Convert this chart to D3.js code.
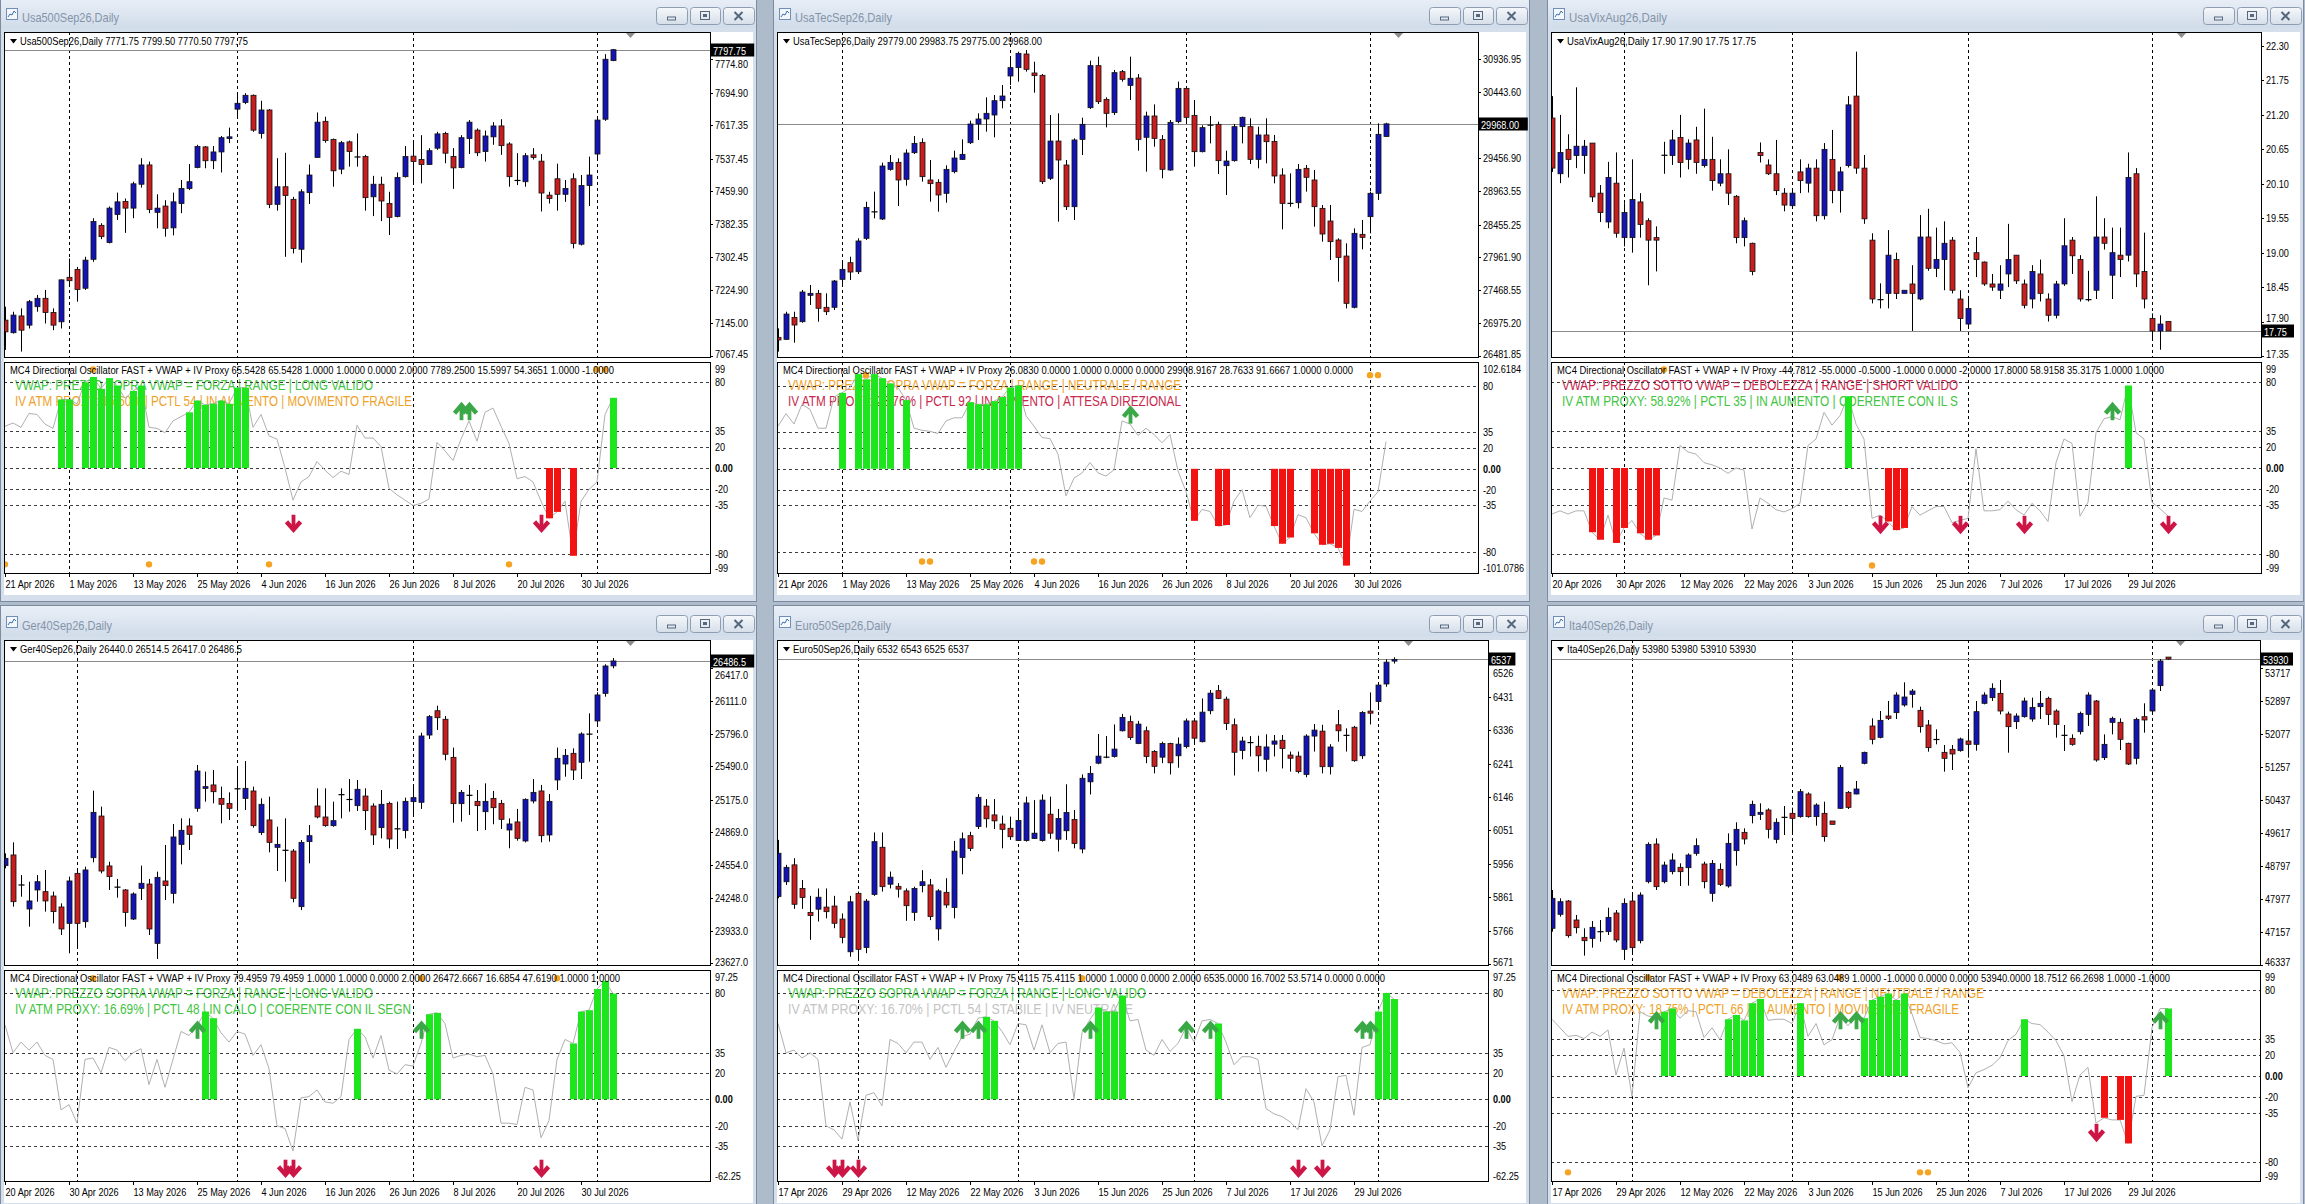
<!DOCTYPE html>
<html><head><meta charset="utf-8">
<script src="https://cdn.jsdelivr.net/npm/d3@7/dist/d3.min.js"></script>
<style>
html,body{margin:0;padding:0;background:#aebbcb;overflow:hidden;}
svg{display:block;}
text{font-family:"Liberation Sans",Arial,sans-serif;}
</style></head><body>
<svg id="c" width="2305" height="1204"></svg>
<script>
// ===================== DATA =====================
// candles: [open, high, low, close]
const usa500Candles = [[7153,7185,7082,7125],[7123,7173,7121,7165],[7163,7181,7078,7129],[7141,7201,7133,7197],[7185,7213,7173,7205],[7205,7225,7145,7171],[7171,7181,7129,7141],[7149,7250,7133,7249],[7255,7300,7233,7247],[7274,7280,7197,7226],[7229,7304,7225,7296],[7298,7396,7292,7388],[7379,7384,7346,7352],[7338,7424,7336,7420],[7405,7457,7392,7435],[7436,7443,7361,7420],[7420,7483,7396,7478],[7477,7539,7469,7523],[7523,7531,7408,7417],[7410,7453,7372,7420],[7425,7439,7352,7372],[7373,7457,7355,7435],[7431,7487,7408,7467],[7467,7525,7463,7483],[7517,7571,7515,7567],[7566,7568,7515,7533],[7533,7568,7513,7554],[7554,7592,7505,7588],[7586,7612,7575,7590],[7656,7696,7634,7670],[7672,7694,7668,7689],[7689,7691,7602,7606],[7598,7676,7586,7654],[7654,7656,7420,7429],[7429,7539,7414,7471],[7471,7552,7304,7450],[7441,7447,7312,7324],[7322,7465,7290,7459],[7457,7524,7430,7499],[7541,7648,7540,7625],[7627,7638,7576,7581],[7584,7586,7471,7509],[7513,7580,7501,7576],[7578,7581,7519,7555],[7541,7598,7519,7543],[7543,7547,7414,7445],[7447,7497,7401,7477],[7477,7495,7389,7437],[7431,7459,7356,7398],[7400,7505,7398,7493],[7495,7568,7493,7543],[7544,7582,7479,7531],[7536,7594,7479,7524],[7524,7563,7523,7557],[7563,7602,7559,7597],[7598,7602,7527,7551],[7543,7563,7466,7516],[7517,7594,7515,7588],[7586,7630,7549,7625],[7606,7610,7544,7552],[7555,7605,7531,7592],[7590,7625,7571,7616],[7616,7632,7547,7569],[7573,7577,7471,7495],[7487,7551,7475,7485],[7483,7551,7471,7545],[7547,7563,7536,7541],[7532,7549,7412,7456],[7451,7459,7431,7443],[7490,7526,7414,7453],[7453,7487,7435,7467],[7490,7503,7324,7336],[7334,7499,7331,7474],[7474,7543,7425,7499],[7549,7634,7535,7630],[7632,7787,7628,7775],[7771.75,7799.5,7770.5,7797.75]];
const usa500Osc = [39,42,38,51,50,41,37,64,64,60,80,85,74,84,77,65,72,77,38,37,33,44,48,52,63,59,60,63,60,75,75,38,50,30,27,0,-30,-13,-8,6,-2,-9,-3,-6,40,28,28,20,-19,-25,-30,-35,-33,-29,24,16,7,27,44,25,52,56,39,23,-10,-8,-13,-31,-47,-41,-31,-82,-31,-20,-13,50,65.54];
const usa500Green = [7,8,10,11,12,13,14,16,17,23,24,25,26,27,28,29,30,76];
const usa500Red = [68,69,71];
const usa500Up = [[57,54],[58,54]];
const usa500Down = [[36,-53],[67,-53]];
const usa500Dots = [[11,92],[74,92],[75,92],[0,-90],[18,-90],[33,-90],[63,-90]];
const usa500PriceTicks = [7774.80,7694.90,7617.35,7537.45,7459.90,7382.35,7302.45,7224.90,7145.00,7067.45];
const usa500Domain = [7062.68,7839.97];
const usa500Months = [8,29,51,74];

const usaTecCandles = [[26762,26897,26547,26722],[26732,27147,26722,27112],[27062,27147,26682,26947],[26997,27473,26982,27443],[27393,27548,27248,27423],[27423,27473,26997,27198],[27213,27423,27097,27147],[27213,27623,27172,27608],[27633,27923,27523,27783],[27883,27973,27623,27743],[27748,28249,27713,28209],[28249,28799,28224,28714],[28639,28950,28549,28654],[28539,29385,28524,29335],[29285,29500,29265,29390],[29390,29450,28734,29125],[29135,29585,29040,29530],[29535,29786,29515,29675],[29690,29750,29100,29175],[29125,29425,28800,29070],[29090,29135,28649,28900],[28925,29345,28784,29285],[29250,29565,29225,29455],[29435,29735,29425,29510],[29685,30016,29665,29966],[29966,30126,29725,30041],[30041,30366,29851,30126],[30101,30401,29766,30316],[30316,30551,30201,30386],[30687,30987,30551,30812],[30812,31052,30602,31027],[31017,31077,30752,30787],[30732,30902,30436,30692],[30697,30717,29065,29100],[29150,30101,29125,29710],[29710,30126,28499,29425],[29350,29425,28674,28724],[28724,29750,28524,29726],[29735,30061,29500,29961],[30211,30917,30191,30842],[30842,30977,30266,30301],[30336,30366,29916,30126],[30136,30777,30101,30737],[30752,30777,30602,30637],[30546,30977,30326,30652],[30657,30717,29565,29735],[29766,30151,29250,30086],[30086,30261,29625,29750],[29735,29800,29150,29285],[29275,30026,29265,29991],[30001,30602,29976,30501],[30501,30526,29986,30066],[30096,30326,29325,29550],[29550,29946,29540,29911],[29941,30086,29675,29956],[29961,30001,29215,29415],[29340,29565,28900,29410],[29415,29966,29400,29926],[29926,30076,29675,30066],[29926,30051,29365,29435],[29435,29926,29300,29801],[29801,30051,29375,29700],[29705,29801,29075,29185],[29200,29300,28384,28774],[28764,29225,28724,28784],[28784,29365,28699,29285],[29300,29350,28950,29165],[29125,29275,28424,28724],[28699,28749,28199,28314],[28509,28749,27923,28199],[28224,28249,27598,27963],[27983,28174,27197,27273],[27213,28399,27197,28324],[28309,28524,28084,28264],[28574,28950,28324,28925],[28925,29976,28824,29811],[29779,29983.75,29775,29968]];
const usaTecOsc = [41,53,43,62,57,39,39,69,73,78,91,86,91,87,82,78,66,39,37,36,34,46,49,49,64,62,62,65,69,78,80,51,41,30,29,14,-26,-9,-4,6,-4,-7,-1,46,43,32,39,33,25,33,-2,-22,-50,-39,-41,-55,-54,-31,-20,-47,-35,-36,-55,-72,-66,-44,-47,-62,-73,-72,-76,-93,-39,-41,-31,-22,26.08];
const usaTecGreen = [8,10,11,12,13,14,16,24,25,26,27,28,29,30];
const usaTecRed = [52,55,56,62,63,64,67,68,69,70,71];
const usaTecUp = [[44,53]];
const usaTecDown = [];
const usaTecDots = [[11,90],[74,90],[75,90],[18,-89],[19,-89],[32,-89],[33,-89]];
const usaTecPriceTicks = [30936.95,30443.60,29456.90,28963.55,28455.25,27961.90,27468.55,26975.20,26481.85];
const usaTecDomain = [26451.8,31347.4];
const usaTecMonths = [8,29,51,74];

const usaVixCandles = [[21.15,21.50,20.29,20.35],[20.26,21.20,20.11,20.60],[20.65,20.89,20.20,20.49],[20.55,21.64,20.35,20.70],[20.55,20.80,20.26,20.70],[20.75,20.75,19.81,19.89],[19.95,20.08,19.49,19.64],[19.49,20.45,19.39,20.20],[20.11,20.60,19.24,19.31],[19.24,19.79,19.10,19.64],[19.24,20.49,19.00,19.85],[19.81,19.95,19.24,19.45],[19.51,19.55,18.48,19.20],[19.24,19.42,18.70,19.20],[20.56,20.77,20.26,20.55],[20.55,20.96,20.40,20.80],[20.84,21.20,20.20,20.44],[20.49,20.81,20.33,20.75],[20.80,21.01,20.26,20.44],[20.39,21.30,20.36,20.49],[20.49,20.85,19.99,20.15],[20.11,20.49,20.06,20.26],[20.26,20.65,19.76,19.95],[19.90,19.92,19.15,19.24],[19.24,19.56,19.10,19.51],[19.15,19.16,18.64,18.70],[20.60,20.76,20.44,20.55],[20.40,20.49,20.24,20.26],[20.26,20.80,19.92,19.99],[19.95,20.03,19.66,19.76],[19.75,20.00,19.73,19.95],[20.29,20.49,19.95,20.15],[20.11,20.42,19.96,20.35],[20.35,20.49,19.50,19.59],[19.59,20.75,19.53,20.65],[20.49,20.96,19.79,19.99],[19.99,20.37,19.64,20.29],[20.39,21.50,20.36,21.36],[21.50,22.21,20.26,20.35],[20.35,20.56,19.46,19.54],[19.20,19.31,18.19,18.26],[18.25,18.51,18.11,18.25],[18.35,19.36,18.11,18.96],[18.89,19.00,18.26,18.35],[18.35,18.40,18.35,18.40],[18.50,18.80,17.75,18.35],[18.26,19.60,18.24,19.25],[19.25,19.70,18.71,18.75],[18.75,19.40,18.61,18.89],[18.89,19.50,18.40,19.15],[19.20,19.25,18.35,18.40],[18.26,18.40,17.75,17.95],[17.86,18.31,17.79,18.11],[19.00,19.25,18.61,18.89],[18.85,18.86,18.47,18.50],[18.50,18.66,18.39,18.45],[18.40,18.80,18.26,18.50],[18.66,19.46,18.45,18.89],[18.96,18.96,18.50,18.55],[18.50,18.57,18.11,18.16],[18.26,18.80,18.11,18.70],[18.66,18.89,18.22,18.35],[18.26,18.35,17.90,18.00],[18.00,18.55,17.95,18.50],[18.50,19.55,18.47,19.11],[19.20,19.25,18.66,18.95],[18.89,18.96,18.22,18.26],[18.25,18.71,18.22,18.25],[18.40,19.90,18.26,19.25],[19.25,19.55,19.05,19.15],[18.64,19.40,18.26,19.00],[18.96,19.40,18.61,18.89],[18.96,20.60,18.86,20.20],[20.26,20.35,18.45,18.66],[18.70,19.32,18.11,18.26],[17.95,18.03,17.60,17.75],[17.75,18.00,17.45,17.86],[17.90,17.90,17.75,17.75]];
const usaVixOsc = [-43,-40,-43,-40,-40,-60,-67,-44,-70,-56,-49,-61,-67,-63,-28,-30,21,15,13,5,3,0,-5,0,-2,-57,-28,-33,-39,-41,-38,-33,21,27,52,40,49,67,41,27,-47,-44,-50,-58,-56,-36,-44,-40,-36,-36,-51,-49,-47,18,-40,-40,-39,-31,-39,-44,-33,-40,-50,5,27,23,-45,-32,33,46,48,45,77,33,27,-32,-38,-44.78];
const usaVixGreen = [37,72];
const usaVixRed = [5,6,8,9,11,12,13,42,43,44];
const usaVixUp = [[70,54]];
const usaVixDown = [[41,-54],[51,-54],[59,-54],[77,-54]];
const usaVixDots = [[14,92],[40,-91]];
const usaVixPriceTicks = [22.30,21.75,21.20,20.65,20.10,19.55,19.00,18.45,17.90,17.35];
const usaVixDomain = [17.318,22.5236];
const usaVixMonths = [9,30,52,75];

const ger40Candles = [[24551,24667,24525,24620],[24652,24771,24163,24210],[24374,24462,24257,24362],[24141,24399,23974,24217],[24321,24462,24210,24399],[24305,24510,24116,24217],[24264,24305,24005,24116],[24160,24194,23895,23952],[24005,24447,23722,24406],[24478,24510,23769,24005],[24021,24541,23964,24510],[24626,25260,24582,25055],[25020,25109,24478,24500],[24548,24588,24321,24447],[24352,24425,24248,24343],[24321,24330,23974,24109],[24046,24298,24037,24283],[24336,24551,24226,24384],[24377,24425,23895,23952],[23816,24494,23668,24440],[24406,24746,24226,24362],[24289,24945,24194,24822],[24752,24998,24563,24885],[24926,24998,24699,24847],[25093,25503,25061,25446],[25282,25440,25156,25298],[25314,25455,25140,25250],[25187,25298,24951,25131],[25140,25244,24983,25093],[25273,25487,25071,25282],[25187,25540,25077,25282],[25257,25298,24910,24929],[24863,25187,24841,25131],[24983,25203,24677,24771],[24724,24919,24500,24752],[24699,24998,24399,24693],[24689,24708,24204,24242],[24163,24793,24131,24771],[24778,24935,24573,24834],[25115,25282,24998,25011],[25011,25282,24919,24929],[24929,25156,24919,24976],[25219,25282,24998,25225],[25172,25370,25061,25181],[25118,25361,25068,25273],[25209,25282,24888,25071],[25115,25140,24746,24841],[24910,25266,24809,25131],[25140,25156,24715,24803],[24904,25156,24708,24894],[24882,25194,24809,25159],[25156,25298,25023,25194],[25150,25808,25087,25777],[25786,25975,25749,25960],[26016,26064,25834,25950],[25935,25966,25547,25604],[25575,25667,24957,25137],[25137,25266,24967,25244],[25213,25314,25030,25219],[25159,25266,24878,25118],[25061,25329,24888,25159],[25187,25257,24942,25099],[25140,25172,24897,24989],[24888,24998,24715,24945],[24964,25087,24787,24809],[24784,25187,24771,25178],[25162,25370,25140,25244],[25257,25314,24771,24834],[24841,25228,24778,25159],[25361,25667,25266,25566],[25512,25654,25392,25594],[25613,25660,25361,25455],[25528,25812,25370,25796],[25790,25991,25534,25799],[25919,26190,25865,26165],[26180,26455,26149,26439],[26440,26514.5,26417,26486.5]];
const ger40Osc = [56,35,43,37,43,33,30,-8,-4,-18,30,31,20,39,37,29,35,38,11,30,9,30,51,48,55,66,61,50,43,51,49,33,41,23,-20,-22,-39,1,2,7,-2,-3,2,45,53,47,31,48,22,19,26,25,42,64,65,57,31,33,34,32,33,19,-18,-18,-19,9,7,-29,-16,30,45,42,66,67,83,89,79.5];
const ger40Green = [25,26,44,53,54,71,72,73,74,75,76];
const ger40Red = [];
const ger40Up = [[24,53],[52,53]];
const ger40Down = [[35,-53],[36,-53],[67,-53]];
const ger40Dots = [[11,91],[52,91],[69,91]];
const ger40PriceTicks = [26417.0,26111.0,25796.0,25490.0,25175.0,24869.0,24554.0,24248.0,23933.0,23627.0];
const ger40Domain = [23601.8,26684.7];
const ger40Months = [9,29,51,74];

const euro50Candles = [[5863,6024,5858,5986],[5905,5953,5896,5946],[5953,5972,5828,5841],[5886,5910,5828,5860],[5818,5865,5740,5809],[5827,5886,5792,5861],[5833,5886,5801,5820],[5836,5865,5773,5787],[5799,5815,5730,5747],[5706,5865,5692,5848],[5872,5877,5681,5713],[5718,5856,5702,5850],[5869,6045,5865,6019],[6003,6045,5877,5891],[5898,5934,5886,5918],[5892,5901,5860,5884],[5879,5886,5794,5837],[5818,5891,5794,5886],[5894,5938,5875,5905],[5896,5913,5796,5806],[5771,5884,5738,5879],[5875,5915,5831,5839],[5832,6021,5801,5992],[5974,6045,5926,6027],[6036,6047,5992,6000],[6062,6154,6055,6145],[6120,6140,6059,6084],[6095,6140,6055,6078],[6069,6093,6000,6054],[6057,6090,6024,6033],[6022,6112,6021,6079],[6022,6147,6019,6129],[6028,6137,6027,6043],[6022,6153,6019,6137],[6097,6147,6027,6043],[6026,6112,5991,6085],[6050,6182,6024,6102],[6082,6109,6000,6014],[5998,6210,5986,6199],[6189,6234,6153,6213],[6242,6325,6239,6262],[6258,6319,6256,6260],[6261,6352,6258,6282],[6334,6382,6332,6372],[6360,6377,6308,6315],[6298,6362,6296,6353],[6334,6346,6242,6261],[6275,6279,6213,6233],[6259,6303,6242,6298],[6298,6300,6210,6243],[6263,6315,6229,6296],[6289,6369,6284,6362],[6362,6368,6294,6313],[6303,6426,6301,6387],[6391,6450,6381,6441],[6448,6464,6424,6426],[6424,6431,6336,6355],[6351,6369,6207,6273],[6278,6317,6253,6305],[6299,6319,6261,6302],[6290,6320,6218,6263],[6253,6324,6218,6288],[6296,6322,6261,6305],[6307,6322,6227,6284],[6265,6275,6218,6256],[6262,6275,6213,6218],[6210,6324,6202,6319],[6319,6353,6275,6336],[6333,6351,6213,6232],[6232,6296,6210,6288],[6351,6393,6303,6334],[6322,6341,6275,6320],[6344,6348,6246,6249],[6263,6390,6254,6386],[6390,6443,6352,6384],[6417,6467,6393,6464],[6467,6537,6459,6529],[6532,6543,6525,6537]];
const euro50Osc = [57,35,37,31,35,30,-20,-23,-30,-2,-31,3,5,-5,45,42,35,43,43,30,39,24,36,47,49,61,62,59,51,41,57,56,37,56,35,42,43,0.5,50,60,69,66,66,78,59,60,37,33,45,36,42,54,43,59,60,57,43,26,32,32,30,-7,-11,-13,-17,-23,8,-2,-35,-23,17,18,-12,39,41,66,80,75.41];
const euro50Green = [26,27,40,41,42,43,55,75,76,77];
const euro50Red = [];
const euro50Up = [[23,53],[25,53],[39,53],[51,53],[54,53],[73,53],[74,53]];
const euro50Down = [[7,-53],[8,-53],[10,-53],[65,-53],[68,-53]];
const euro50Dots = [[38,91]];
const euro50PriceTicks = [6526,6431,6336,6241,6146,6051,5956,5861,5766,5671];
const euro50Domain = [5665.6,6592.0];
const euro50Months = [10,30,52,75];

const ita40Candles = [[47240,48192,47157,47985],[47588,47985,47530,47902],[47919,47944,47008,47058],[47447,47571,47116,47256],[47016,47240,46561,46933],[46991,47422,46759,47265],[47140,47447,46908,47173],[47157,47753,47074,47513],[47621,47695,46892,46950],[46718,47985,46453,47861],[47919,48109,46594,46759],[46933,48134,46867,48068],[48399,49377,48358,49327],[49335,49476,48192,48275],[48399,48896,48358,48813],[48648,49103,48582,48938],[48756,48855,48292,48648],[48747,49103,48300,49062],[49103,49476,49045,49294],[48838,48896,48234,48399],[48109,48938,47902,48855],[48706,48855,48292,48333],[48292,49600,48250,49352],[49170,49874,48797,49700],[49625,49725,49327,49460],[50040,50412,49849,50321],[50073,50346,49932,50122],[50180,50222,49476,49700],[49451,49973,49352,49874],[49990,50280,49559,50006],[50098,50238,49576,49973],[50015,50702,49990,50636],[50578,50619,49990,50015],[50015,50346,49791,50304],[50098,50387,49393,49518],[49907,49907,49824,49824],[50222,51298,50205,51240],[50619,50652,50205,50246],[50578,50901,50570,50702],[51340,51630,51315,51613],[52268,52458,51812,51936],[51986,52640,51961,52408],[52516,52889,52417,52458],[52599,53104,52441,53038],[52789,53353,52748,52988],[53054,53187,52723,53137],[52657,52748,52102,52251],[52292,52417,51630,51729],[51944,52185,51812,51920],[51613,51795,51133,51464],[51688,51795,51174,51572],[51655,51978,51630,51944],[51895,52193,51481,51812],[51812,52889,51655,52624],[52831,53104,52806,53038],[52972,53328,52889,53204],[53079,53411,52557,52640],[52566,52624,51605,52251],[52375,52582,52193,52516],[52499,52972,52475,52889],[52441,52972,52375,52731],[52748,53137,52441,52831],[52955,52996,52292,52557],[52640,52682,51978,52309],[52044,52292,51646,52027],[51961,52060,51779,51812],[52127,52624,52060,52582],[52557,53104,52268,53038],[52889,52914,51381,51423],[51481,52060,51423,51812],[52359,52499,52060,52458],[52359,52458,51671,51936],[51837,51853,51298,51323],[51464,52475,51315,52433],[52499,52831,52102,52417],[52640,53204,52557,53162],[53270,53932,53137,53883],[53980,53980,53910,53930]];
const ita40Osc = [53,45,37,38,35,41,37,43,1,26,-19,60,56,55,60,63,54,61,60,36,45,34,53,57,52,68,72,52,53,53,49,68,37,49,29,34,55,47,56,54,71,74,77,71,77,58,36,35,33,30,31,22,-11,3,6,10,17,33,39,53,49,48,41,33,19,-24,1,8,-44,-39,-41,-41,-63,-19,-18,45,63,63.05];
const ita40Green = [14,15,22,23,24,25,26,31,39,40,41,42,43,44,59,77];
const ita40Red = [69,71,72];
const ita40Up = [[13,53],[36,53],[38,53],[76,53]];
const ita40Down = [[68,-54]];
const ita40Dots = [[12,92],[36,92],[2,-90],[46,-90],[47,-90]];
const ita40PriceTicks = [53717,52897,52077,51257,50437,49617,48797,47977,47157,46337];
const ita40Domain = [46303.9,54404.5];
const ita40Months = [10,30,52,75];

const datesA = ["21 Apr 2026","1 May 2026","13 May 2026","25 May 2026","4 Jun 2026","16 Jun 2026","26 Jun 2026","8 Jul 2026","20 Jul 2026","30 Jul 2026"];
const datesB = ["20 Apr 2026","30 Apr 2026","12 May 2026","22 May 2026","3 Jun 2026","15 Jun 2026","25 Jun 2026","7 Jul 2026","17 Jul 2026","29 Jul 2026"];
const datesC = ["20 Apr 2026","30 Apr 2026","13 May 2026","25 May 2026","4 Jun 2026","16 Jun 2026","26 Jun 2026","8 Jul 2026","20 Jul 2026","30 Jul 2026"];
const datesD = ["17 Apr 2026","29 Apr 2026","12 May 2026","22 May 2026","3 Jun 2026","15 Jun 2026","25 Jun 2026","7 Jul 2026","17 Jul 2026","29 Jul 2026"];
const dateIdx = [0,8,16,24,32,40,48,56,64,72];

const oscTicksA = [99,80,35,20,0,-20,-35,-80,-99];
const oscTicksB = [102.6184,80,35,20,0,-20,-35,-80,-101.0786];
const oscTicksC = [97.25,80,35,20,0,-20,-35,-62.25];
const oscDomainA = [-99,99];
const oscDomainB = [-101.0786,102.6184];
const oscDomainC = [-62.25,97.25];
const levelsA = [80,35,20,0,-20,-35,-80];
const levelsC = [80,35,20,0,-20,-35];

const HDR = "MC4 Directional Oscillator FAST + VWAP + IV Proxy ";
const usa500Texts = [HDR+"65.5428 65.5428 1.0000 1.0000 0.0000 2.0000 7789.2500 15.5997 54.3651 1.0000 -1.0000","VWAP: PREZZO SOPRA VWAP = FORZA | RANGE | LONG VALIDO","IV ATM PROXY: 15.60% | PCTL 54 | IN AUMENTO | MOVIMENTO FRAGILE"];
const usaTecTexts = [HDR+"26.0830 0.0000 1.0000 0.0000 0.0000 29908.9167 28.7633 91.6667 1.0000 0.0000","VWAP: PREZZO SOPRA VWAP = FORZA | RANGE | NEUTRALE / RANGE","IV ATM PROXY: 28.76% | PCTL 92 | IN AUMENTO | ATTESA DIREZIONAL"];
const usaVixTexts = [HDR+"-44.7812 -55.0000 -0.5000 -1.0000 0.0000 -2.0000 17.8000 58.9158 35.3175 1.0000 1.0000","VWAP: PREZZO SOTTO VWAP = DEBOLEZZA | RANGE | SHORT VALIDO","IV ATM PROXY: 58.92% | PCTL 35 | IN AUMENTO | COERENTE CON IL S"];
const ger40Texts = [HDR+"79.4959 79.4959 1.0000 1.0000 0.0000 2.0000 26472.6667 16.6854 47.6190 1.0000 1.0000","VWAP: PREZZO SOPRA VWAP = FORZA | RANGE | LONG VALIDO","IV ATM PROXY: 16.69% | PCTL 48 | IN CALO | COERENTE CON IL SEGN"];
const euro50Texts = [HDR+"75.4115 75.4115 1.0000 1.0000 0.0000 2.0000 6535.0000 16.7002 53.5714 0.0000 0.0000","VWAP: PREZZO SOPRA VWAP = FORZA | RANGE | LONG VALIDO","IV ATM PROXY: 16.70% | PCTL 54 | STABILE | IV NEUTRALE"];
const ita40Texts = [HDR+"63.0489 63.0489 1.0000 -1.0000 0.0000 0.0000 53940.0000 18.7512 66.2698 1.0000 -1.0000","VWAP: PREZZO SOTTO VWAP = DEBOLEZZA | RANGE | NEUTRALE / RANGE","IV ATM PROXY: 18.75% | PCTL 66 | IN AUMENTO | MOVIMENTO FRAGILE"];

// ===================== STYLE =====================
const C_BLUE='#1414b4', C_RED='#c81e1e', H_GREEN='#1ee61e', H_RED='#f21212', C_LINE='#b0b0b0';
const T_GREEN='#42c442', T_ORANGE='#eea22a', T_CRIM='#c8284c', T_GRAY='#c4c4c4';
const A_GREEN='#3aa846', A_RED='#cc1646', C_DOT='#f5a320';

const panels = [
 {title:'Usa500Sep26,Daily', c:usa500Candles, osc:usa500Osc, green:usa500Green, red:usa500Red, up:usa500Up, down:usa500Down, dots:usa500Dots, ticks:usa500PriceTicks, dom:usa500Domain, months:usa500Months, dec:2, oT:oscTicksA, oD:oscDomainA, lv:levelsA, dates:datesA, texts:usa500Texts, tc:[T_GREEN,T_ORANGE], wx:0, wy:-3, R:710, len:[97,228,604,358,397]},
 {title:'UsaTecSep26,Daily', c:usaTecCandles, osc:usaTecOsc, green:usaTecGreen, red:usaTecRed, up:usaTecUp, down:usaTecDown, dots:usaTecDots, ticks:usaTecPriceTicks, dom:usaTecDomain, months:usaTecMonths, dec:2, oT:oscTicksB, oD:oscDomainB, lv:levelsA, dates:datesA, texts:usaTecTexts, tc:[T_ORANGE,T_CRIM], wx:773, wy:-3, R:1478, len:[97,249,570,393,393]},
 {title:'UsaVixAug26,Daily', c:usaVixCandles, osc:usaVixOsc, green:usaVixGreen, red:usaVixRed, up:usaVixUp, down:usaVixDown, dots:usaVixDots, ticks:usaVixPriceTicks, dom:usaVixDomain, months:usaVixMonths, dec:2, oT:oscTicksA, oD:oscDomainA, lv:levelsA, dates:datesB, texts:usaVixTexts, tc:[T_CRIM,T_GREEN], wx:1547, wy:-3, R:2261, len:[98,189,607,396,396]},
 {title:'Ger40Sep26,Daily', c:ger40Candles, osc:ger40Osc, green:ger40Green, red:ger40Red, up:ger40Up, down:ger40Down, dots:ger40Dots, ticks:ger40PriceTicks, dom:ger40Domain, months:ger40Months, dec:1, oT:oscTicksC, oD:oscDomainC, lv:levelsC, dates:datesC, texts:ger40Texts, tc:[T_GREEN,T_GREEN], wx:0, wy:605, R:710, len:[90,222,610,358,396]},
 {title:'Euro50Sep26,Daily', c:euro50Candles, osc:euro50Osc, green:euro50Green, red:euro50Red, up:euro50Up, down:euro50Down, dots:euro50Dots, ticks:euro50PriceTicks, dom:euro50Domain, months:euro50Months, dec:0, oT:oscTicksC, oD:oscDomainC, lv:levelsC, dates:datesD, texts:euro50Texts, tc:[T_GREEN,T_GRAY], wx:773, wy:605, R:1488, len:[96,176,602,358,345]},
 {title:'Ita40Sep26,Daily', c:ita40Candles, osc:ita40Osc, green:ita40Green, red:ita40Red, up:ita40Up, down:ita40Down, dots:ita40Dots, ticks:ita40PriceTicks, dom:ita40Domain, months:ita40Months, dec:0, oT:oscTicksA, oD:oscDomainA, lv:levelsA, dates:datesD, texts:ita40Texts, tc:[T_ORANGE,T_ORANGE], wx:1547, wy:605, R:2260, len:[84,189,613,422,397]}
];

// ===================== DRAW =====================
const svg = d3.select('#c');
const defs = svg.append('defs');
function grad(id, a, b){
  const g = defs.append('linearGradient').attr('id',id).attr('x1',0).attr('y1',0).attr('x2',0).attr('y2',1);
  g.append('stop').attr('offset','0%').attr('stop-color',a);
  g.append('stop').attr('offset','100%').attr('stop-color',b);
}
grad('tg','#e9eff7','#d1dcea');
grad('bt','#f5f8fb','#d6dee9');
svg.append('rect').attr('width',2305).attr('height',1204).attr('fill','#aebbcb');

function txt(g, x, y, s, o){
  const t = g.append('text').text(s).attr('font-size', o.size||11).attr('fill', o.fill||'#000');
  if (o.weight) t.attr('font-weight', o.weight);
  if (o.len){ t.attr('x',x).attr('y',y).attr('textLength',o.len).attr('lengthAdjust','spacingAndGlyphs'); }
  else { t.attr('transform',`translate(${x},${y}) scale(${o.sx||0.83},1)`); if (o.anchor) t.attr('text-anchor',o.anchor); }
  return t;
}
const fmt = (v,d)=> v.toFixed(d);

const upHead = "M-7,3 L0,-5 L7,3";
function arrow(g, x, y, up, color){
  const a = g.append('g').attr('transform',`translate(${x},${y}) scale(1,${up?1:-1})`);
  a.append('path').attr('d',upHead).attr('fill','none').attr('stroke',color).attr('stroke-width',4.4).attr('stroke-linejoin','miter');
  a.append('line').attr('x1',0).attr('x2',0).attr('y1',-4).attr('y2',10).attr('stroke',color).attr('stroke-width',3.8);
}

panels.forEach((p,k)=>{
  const W=757, x0=p.wx, y0=p.wy, L=x0+4, R=p.R, IR=x0+W-4;
  const pTop=y0+35, pBot=y0+361, oTop=y0+365, oBot=y0+577;
  const g = svg.append('g');
  // window frame
  g.append('rect').attr('x',x0+0.5).attr('y',y0+0.5).attr('width',W-1).attr('height',604).attr('fill','#d5dfeb').attr('stroke','#7c8ba0');
  g.append('rect').attr('x',x0+1).attr('y',y0+1).attr('width',W-2).attr('height',30).attr('fill','url(#tg)');
  // icon
  g.append('rect').attr('x',x0+6.5).attr('y',y0+11.5).attr('width',11).attr('height',11).attr('fill','#f4f8fc').attr('stroke','#6f8fb8');
  g.append('path').attr('d',`M${x0+8},${y0+20} l2,-3 l2,1 l2,-4 l2,2`).attr('fill','none').attr('stroke','#3a6fb0').attr('stroke-width',1);
  txt(g, x0+22, y0+25, p.title, {size:13, fill:'#8494a9', len:p.len[0]});
  // buttons
  const xr = x0+W;
  [[xr-101,31],[xr-67,30],[xr-34,31]].forEach((b,j)=>{
    g.append('rect').attr('x',b[0]+0.5).attr('y',y0+10.5).attr('width',b[1]).attr('height',17).attr('rx',3).attr('fill','url(#bt)').attr('stroke','#8e9db2');
    const cx=b[0]+b[1]/2, cy=y0+19;
    if (j===0) g.append('rect').attr('x',cx-4).attr('y',cy+1).attr('width',8).attr('height',3).attr('fill','none').attr('stroke','#56677e');
    if (j===1){ g.append('rect').attr('x',cx-4.5).attr('y',cy-4.5).attr('width',9).attr('height',8).attr('fill','none').attr('stroke','#56677e');
                g.append('rect').attr('x',cx-2).attr('y',cy-2).attr('width',4).attr('height',3).attr('fill','#56677e'); }
    if (j===2) g.append('path').attr('d',`M${cx-4},${cy-4} L${cx+4},${cy+4} M${cx+4},${cy-4} L${cx-4},${cy+4}`).attr('stroke','#56677e').attr('stroke-width',2);
  });
  // chart area
  g.append('rect').attr('x',L).attr('y',pTop).attr('width',IR-L).attr('height',y0+598-pTop).attr('fill','#fff');

  const n = p.c.length;
  const xs = d3.scaleLinear().domain([0,n-1]).range([L+1, L+1+8*(n-1)]);
  const yp = d3.scaleLinear().domain(p.dom).range([pBot,pTop]);
  const yo = d3.scaleLinear().domain(p.oD).range([oBot,oTop]);
  const cp='cp'+k, co='co'+k;
  defs.append('clipPath').attr('id',cp).append('rect').attr('x',L).attr('y',pTop).attr('width',R-L).attr('height',pBot-pTop);
  defs.append('clipPath').attr('id',co).append('rect').attr('x',L).attr('y',oTop).attr('width',R-L).attr('height',oBot-oTop);

  const last = p.c[n-1];
  const yc = Math.round(yp(last[3]))+0.5;
  // price axis labels; a label that would sit under the current-price box is nudged just clear of it
  p.ticks.forEach(v=>{
    const y = yp(v);
    g.append('line').attr('x1',R).attr('x2',R+3).attr('y1',Math.round(y)+0.5).attr('y2',Math.round(y)+0.5).attr('stroke','#000');
    let ty = y;
    if (Math.abs(ty-yc) < 13) ty = ty >= yc ? yc+13.5 : yc-13.5;
    ty = Math.min(ty, pBot-4);
    txt(g, R+5, ty+4, fmt(v,p.dec), {size:11});
  });
  // cover below price pane in axis area
  g.append('rect').attr('x',R+1).attr('y',pBot+1).attr('width',IR-R-1).attr('height',y0+598-pBot-1).attr('fill','#fff');

  // price pane
  const pg = g.append('g').attr('clip-path',`url(#${cp})`);
  p.months.forEach(i=>{
    const x = Math.round(xs(i))+0.5;
    pg.append('line').attr('x1',x).attr('x2',x).attr('y1',pTop).attr('y2',pBot).attr('stroke','#000').attr('stroke-dasharray','3,3');
  });
  pg.append('line').attr('x1',L).attr('x2',R).attr('y1',yc).attr('y2',yc).attr('stroke','#8a8a8a');
  p.c.forEach((c,i)=>{
    const [o,h,l,cl] = c, x = Math.round(xs(i))+0.5;
    pg.append('line').attr('x1',x).attr('x2',x).attr('y1',yp(h)).attr('y2',yp(l)).attr('stroke','#000');
    const t = yp(Math.max(o,cl)), b = yp(Math.min(o,cl));
    if (b-t < 1.6) pg.append('line').attr('x1',x-3).attr('x2',x+3).attr('y1',(t+b)/2).attr('y2',(t+b)/2).attr('stroke','#000').attr('stroke-width',1.2);
    else pg.append('rect').attr('x',x-2.5).attr('y',t).attr('width',5).attr('height',b-t).attr('fill', cl>=o?C_BLUE:C_RED).attr('stroke','#111').attr('stroke-width',0.8);
  });
  // current price box
  const ct = fmt(last[3],p.dec);
  const bw = ct.length*5.6+4;
  g.append('rect').attr('x',R+1).attr('y',yc-7).attr('width',bw).attr('height',13).attr('fill','#000');
  txt(g, R+3, yc+4, ct, {size:11, fill:'#fff'});
  // header
  g.append('path').attr('d',`M${L+6},${pTop+7} h7 l-3.5,4.5 z`).attr('fill','#000');
  const ph = p.title+'  '+last.map(v=>fmt(v,p.dec)).join(' ');
  txt(g, L+16, pTop+12.5, ph, {size:11, len:p.len[1]});
  g.append('path').attr('d',`M${R-84},${pTop+1} h9 l-4.5,5 z`).attr('fill','#8c8c8c');
  g.append('rect').attr('x',L+0.5).attr('y',pTop+0.5).attr('width',R-L).attr('height',pBot-pTop-1).attr('fill','none').attr('stroke','#000');

  // oscillator pane
  const og = g.append('g');
  txt(og, L+11, oTop+27.5, p.texts[1], {size:14, fill:p.tc[0], len:p.len[3]});
  txt(og, L+11, oTop+43.5, p.texts[2], {size:14, fill:p.tc[1], len:p.len[4]});
  const oc = g.append('g').attr('clip-path',`url(#${co})`);
  p.months.forEach(i=>{
    const x = Math.round(xs(i))+0.5;
    oc.append('line').attr('x1',x).attr('x2',x).attr('y1',oTop).attr('y2',oBot).attr('stroke','#000').attr('stroke-dasharray','3,3');
  });
  p.lv.forEach(v=>{
    const y = Math.round(yo(v))+0.5;
    oc.append('line').attr('x1',L).attr('x2',R).attr('y1',y).attr('y2',y).attr('stroke','#3c3c3c').attr('stroke-dasharray','3,3');
  });
  const line = d3.line().x((d,i)=>xs(i)).y(d=>yo(d));
  oc.append('path').attr('d',line(p.osc)).attr('fill','none').attr('stroke',C_LINE).attr('stroke-width',1);
  const y0v = yo(0);
  p.green.forEach(i=>{ const v=p.osc[i]; oc.append('rect').attr('x',Math.round(xs(i))-3).attr('y',yo(v)).attr('width',7).attr('height',y0v-yo(v)).attr('fill',H_GREEN); });
  p.red.forEach(i=>{ const v=p.osc[i]; oc.append('rect').attr('x',Math.round(xs(i))-3).attr('y',y0v).attr('width',7).attr('height',yo(v)-y0v).attr('fill',H_RED); });
  p.up.forEach(a=>arrow(oc, Math.round(xs(a[0]))+0.5, yo(a[1]), true, A_GREEN));
  p.down.forEach(a=>arrow(oc, Math.round(xs(a[0]))+0.5, yo(a[1]), false, A_RED));
  const hg = g.append('g');
  txt(hg, L+6, oTop+12, p.texts[0], {size:10, len:p.len[2]});
  p.dots.forEach(d=> oc.append('circle').attr('cx',xs(d[0])).attr('cy',yo(d[1])).attr('r',3.2).attr('fill',C_DOT));
  g.append('rect').attr('x',L+0.5).attr('y',oTop+0.5).attr('width',R-L).attr('height',oBot-oTop-1).attr('fill','none').attr('stroke','#000');
  // osc axis labels
  p.oT.forEach(v=>{
    let y = yo(v)+4; y = Math.max(oTop+11, Math.min(oBot-2, y));
    const s = v===0 ? '0.00' : String(v);
    txt(g, R+5, y, s, {size:11, weight: v===0?'bold':null});
  });
  // dates
  p.dates.forEach((s,j)=>{
    const x = Math.round(xs(dateIdx[j]))+0.5;
    g.append('line').attr('x1',x).attr('x2',x).attr('y1',oBot).attr('y2',oBot+3).attr('stroke','#000');
    txt(g, x, y0+591, s, {size:11});
  });
});
</script>
</body></html>
